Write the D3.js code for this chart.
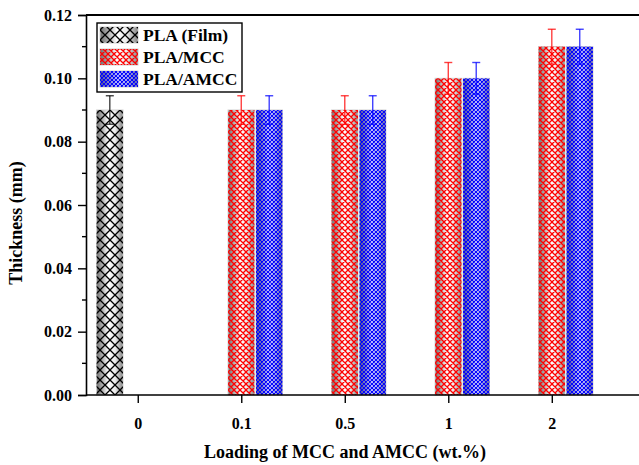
<!DOCTYPE html>
<html><head><meta charset="utf-8">
<script src="https://cdn.jsdelivr.net/npm/d3@7"></script>
<style>body{margin:0;background:#fff}svg{display:block}</style>
</head><body><svg id="c" width="639" height="465"></svg>
<script>
const categories = ["0", "0.1", "0.5", "1", "2"];
const seriesNames = ["PLA (Film)", "PLA/MCC", "PLA/AMCC"];
const filmValues = [0.09, null, null, null, null];
const filmErrors = [0.0045, null, null, null, null];
const mccValues = [null, 0.09, 0.09, 0.10, 0.11];
const mccErrors = [null, 0.0045, 0.0045, 0.005, 0.0055];
const amccValues = [null, 0.09, 0.09, 0.10, 0.11];
const amccErrors = [null, 0.0045, 0.0045, 0.005, 0.0055];
const yTicks = [0, 0.02, 0.04, 0.06, 0.08, 0.10, 0.12];

const FONT = "'Liberation Serif', 'Times New Roman', Tinos, 'DejaVu Serif', serif";
const svg = d3.select("#c");
const L = 86, R = 639, T = 15, B = 395;
const x = d3.scaleLinear().domain([-0.5, 4.8]).range([L, 634.6]);
const y = d3.scaleLinear().domain([0, 0.12]).range([B, T]);
const unit = x(1) - x(0);

const defs = svg.append("defs");
const grad = defs.append("linearGradient").attr("id", "cyl").attr("x1", 0).attr("x2", 1).attr("y1", 0).attr("y2", 0);
[[0, "#6e6e6e"], [0.2, "#a8a8a8"], [0.45, "#ffffff"], [0.7, "#ececec"], [1, "#858585"]].forEach(([o, c]) => grad.append("stop").attr("offset", o).attr("stop-color", c));

const colors = ["#000000", "#ff0000", "#0000ff"];
const pat = [{id: "p0", s: 10, w: 1.3}, {id: "p1", s: 6, w: 1.3}, {id: "p2", s: 4, w: 1.2}];
pat.forEach((p, i) => {
  const pp = defs.append("pattern").attr("id", p.id).attr("patternUnits", "userSpaceOnUse").attr("width", p.s).attr("height", p.s);
  pp.append("path").attr("d", `M0,0L${p.s},${p.s}M${p.s},0L0,${p.s}M-1,${p.s-1}L1,${p.s+1}M${p.s-1},-1L${p.s+1},1`).attr("stroke", colors[i]).attr("stroke-width", p.w).attr("fill", "none");
});

const series = [
  {vals: filmValues, errs: filmErrors, off: -0.27},
  {vals: mccValues, errs: mccErrors, off: 0},
  {vals: amccValues, errs: amccErrors, off: 0.27}
];
const bw = 0.255 * unit;

series.forEach((s, si) => {
  const data = s.vals.map((v, i) => ({i, v, e: s.errs[i]})).filter(d => d.v != null);
  const g = svg.append("g");
  g.selectAll("rect.bg").data(data).join("rect")
    .attr("x", d => x(d.i + s.off) - bw / 2).attr("width", bw)
    .attr("y", d => y(d.v)).attr("height", d => y(0) - y(d.v))
    .attr("fill", "url(#cyl)").attr("stroke", "#d0d0d0").attr("stroke-width", 1);
  g.selectAll("rect.pt").data(data).join("rect")
    .attr("x", d => x(d.i + s.off) - bw / 2).attr("width", bw)
    .attr("y", d => y(d.v)).attr("height", d => y(0) - y(d.v))
    .attr("fill", `url(#${pat[si].id})`);
  const eg = g.selectAll("g.err").data(data).join("g").attr("stroke", colors[si]).attr("stroke-opacity", 0.75).attr("stroke-width", 1.4);
  eg.append("line").attr("x1", d => x(d.i + s.off)).attr("x2", d => x(d.i + s.off)).attr("y1", d => y(d.v + d.e)).attr("y2", d => y(d.v - d.e));
  eg.append("line").attr("x1", d => x(d.i + s.off) - 4).attr("x2", d => x(d.i + s.off) + 4).attr("y1", d => y(d.v + d.e)).attr("y2", d => y(d.v + d.e));
  eg.append("line").attr("x1", d => x(d.i + s.off) - 4).attr("x2", d => x(d.i + s.off) + 4).attr("y1", d => y(d.v - d.e)).attr("y2", d => y(d.v - d.e));
});

// Y axis
const yAxis = svg.append("g").attr("transform", `translate(${L},0)`)
  .call(d3.axisLeft(y).tickValues(yTicks).tickFormat(d3.format(".2f")).tickSize(8).tickPadding(6));
yAxis.attr("font-family", null).attr("font-size", null);
yAxis.select(".domain").attr("stroke-width", 1.6);
yAxis.selectAll(".tick line").attr("stroke-width", 1.4);
yAxis.selectAll("text").style("font-family", FONT).style("font-weight", "bold").style("font-size", "16px").attr("fill", "#000");
const minor = d3.range(0.01, 0.12, 0.02);
svg.append("g").selectAll("line").data(minor).join("line")
  .attr("x1", L - 4).attr("x2", L).attr("y1", d => y(d)).attr("y2", d => y(d)).attr("stroke", "#000").attr("stroke-width", 1.4);

// X axis
const xAxis = svg.append("g").attr("transform", `translate(0,${B})`)
  .call(d3.axisBottom(x).tickValues(d3.range(categories.length)).tickFormat(i => categories[i]).tickSize(8).tickPadding(15).tickSizeOuter(0));
xAxis.attr("font-family", null).attr("font-size", null);
xAxis.select(".domain").attr("d", `M${L},0H${R}`).attr("stroke-width", 1.6);
xAxis.selectAll(".tick line").attr("stroke-width", 1.4);
xAxis.selectAll("text").style("font-family", FONT).style("font-weight", "bold").style("font-size", "16px").attr("fill", "#000");

// top frame
svg.append("line").attr("x1", L).attr("x2", R).attr("y1", T).attr("y2", T).attr("stroke", "#000").attr("stroke-width", 2);

// titles
svg.append("text").attr("x", 345).attr("y", 458).attr("text-anchor", "middle")
  .style("font-family", FONT).style("font-weight", "bold").style("font-size", "18px").text("Loading of MCC and AMCC (wt.%)");
svg.append("text").attr("transform", "translate(22,223) rotate(-90)").attr("text-anchor", "middle")
  .style("font-family", FONT).style("font-weight", "bold").style("font-size", "18px").text("Thickness (mm)");

// legend
const lg = svg.append("g");
lg.append("rect").attr("x", 97).attr("y", 23).attr("width", 145).attr("height", 69).attr("fill", "#fff").attr("stroke", "#000").attr("stroke-width", 1.4);
seriesNames.forEach((n, i) => {
  const yy = 27 + i * 22;
  lg.append("rect").attr("x", 100).attr("y", yy).attr("width", 38).attr("height", 16).attr("fill", "url(#cyl)").attr("stroke", "#d0d0d0");
  lg.append("rect").attr("x", 100).attr("y", yy).attr("width", 38).attr("height", 16).attr("fill", `url(#${pat[i].id})`);
  lg.append("text").attr("x", 143).attr("y", yy + 14)
    .style("font-family", FONT).style("font-weight", "bold").style("font-size", "17.5px").text(n);
});
</script></body></html>
